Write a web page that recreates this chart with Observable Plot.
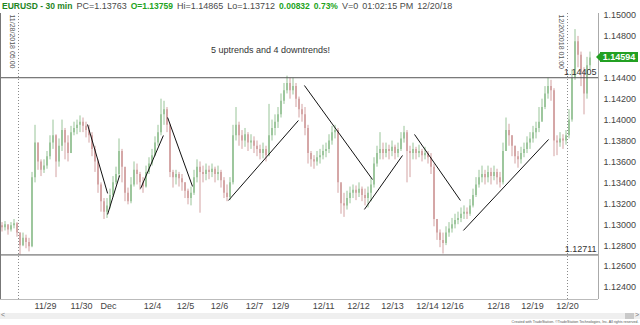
<!DOCTYPE html>
<html><head><meta charset="utf-8">
<script src="https://cdn.jsdelivr.net/npm/d3@7"></script>
<script src="https://cdn.jsdelivr.net/npm/@observablehq/plot@0.6"></script>
<style>
body{margin:0;background:#fff;}
#wrap{position:relative;width:640px;height:325px;overflow:hidden;font-family:"Liberation Sans",Arial,sans-serif;background:#fff}
#hdr{position:absolute;left:2px;top:0;font-size:9px;line-height:12px;white-space:nowrap;color:#4a4a4a;z-index:2}
#hdr span{margin-right:4px}
#hdr .g1{color:#1e851e;font-weight:bold;font-size:8.5px}
#hdr .g2{color:#22a322;font-weight:bold;font-size:8.5px}
#chart{position:absolute;left:0;top:13px}
#scroll{position:absolute;left:0;top:313px;width:640px;height:6px;background:#efefef;z-index:2}
#scroll .l{position:absolute;left:1px;top:-2px;font-size:7px;color:#777}
#scroll .r{position:absolute;left:635px;top:-2px;font-size:7px;color:#777}
#scroll .t{position:absolute;left:625px;top:0;width:9px;height:6px;background:#c9c9c9}
#tag{position:absolute;left:600px;width:38px;height:10px;background:#23a023;color:#fff;font-weight:bold;font-size:9px;line-height:10px;text-align:center;z-index:3}
#tag:before{content:"";position:absolute;left:-4px;top:1px;border-top:4px solid transparent;border-bottom:4px solid transparent;border-right:4px solid #23a023}
</style></head><body>
<div id="wrap">
<div id="chart"></div>
<div id="hdr"><span class="g1">EURUSD - 30 min</span><span>PC=1.13763</span><span class="g2">O=1.13759</span><span>Hi=1.14865</span><span>Lo=1.13712</span><span class="g2">0.00832</span><span class="g2">0.73%</span><span>V=0</span><span>01:02:15 PM</span><span>12/20/18</span></div>
<div id="scroll"><span class="l">&lt;</span><span class="t"></span><span class="r">&gt;</span></div>
<div id="tag"></div>
</div>
<script>
// 30-minute EURUSD price path (sampled), prices
const closes = [
1.1297,1.1300,1.1295,1.1299,1.1301,1.1292,1.1280,1.1287,1.1283,1.1279,
1.1345,1.1378,1.1360,1.1352,1.1356,1.1365,1.1378,1.1385,1.1360,1.1375,
1.1390,1.1378,1.1368,1.1388,1.1392,1.1395,1.1398,1.1394,1.1390,1.1385,
1.1372,1.1360,1.1338,1.1322,1.1312,1.1318,1.1328,1.1340,1.1348,1.1370,
1.1355,1.1330,1.1322,1.1338,1.1352,1.1348,1.1340,1.1336,1.1350,1.1358,
1.1366,1.1378,1.1388,1.1405,1.1410,1.1395,1.1350,1.1345,1.1348,1.1344,
1.1340,1.1332,1.1325,1.1330,1.1345,1.1355,1.1350,1.1348,1.1352,1.1350,
1.1353,1.1348,1.1350,1.1342,1.1330,1.1326,1.1340,1.1385,1.1395,1.1385,
1.1380,1.1386,1.1378,1.1380,1.1375,1.1372,1.1368,1.1372,1.1366,1.1385,
1.1392,1.1398,1.1405,1.1418,1.1428,1.1435,1.1428,1.1432,1.1420,1.1410,
1.1405,1.1392,1.1368,1.1362,1.1360,1.1364,1.1366,1.1370,1.1372,1.1380,
1.1388,1.1390,1.1340,1.1320,1.1318,1.1325,1.1330,1.1333,1.1330,1.1334,
1.1328,1.1325,1.1330,1.1338,1.1358,1.1368,1.1372,1.1368,1.1372,1.1370,
1.1374,1.1368,1.1372,1.1382,1.1388,1.1370,1.1368,1.1372,1.1368,1.1370,
1.1366,1.1368,1.1364,1.1355,1.1305,1.1292,1.1285,1.1282,1.1292,1.1296,
1.1300,1.1304,1.1306,1.1310,1.1312,1.1310,1.1318,1.1328,1.1338,1.1345,
1.1348,1.1345,1.1350,1.1346,1.1350,1.1345,1.1340,1.1370,1.1390,1.1385,
1.1375,1.1365,1.1362,1.1368,1.1372,1.1378,1.1382,1.1388,1.1392,1.1398,
1.1412,1.1425,1.1432,1.1428,1.1380,1.1378,1.1382,1.1380,1.1385,1.1400,
1.1440,1.1475,1.1462,1.1445,1.1425,1.1452,1.14594];
const highs = [
1.1302,1.1303,1.1299,1.1302,1.1305,1.1302,1.1292,1.1292,1.1290,1.1287,
1.1350,1.1395,1.1378,1.1362,1.1362,1.1370,1.1385,1.1400,1.1386,1.1382,
1.1400,1.1392,1.1385,1.1394,1.1398,1.1400,1.1404,1.1402,1.1398,1.1395,
1.1388,1.1375,1.1362,1.1340,1.1325,1.1325,1.1334,1.1346,1.1355,1.1382,
1.1372,1.1352,1.1335,1.1345,1.1360,1.1358,1.1350,1.1345,1.1356,1.1364,
1.1372,1.1384,1.1395,1.1420,1.1418,1.1412,1.1396,1.1352,1.1352,1.1350,
1.1348,1.1340,1.1334,1.1336,1.1352,1.1362,1.1360,1.1356,1.1358,1.1356,
1.1358,1.1355,1.1356,1.1352,1.1345,1.1338,1.1345,1.1395,1.1412,1.1398,
1.1390,1.1392,1.1388,1.1386,1.1384,1.1380,1.1376,1.1378,1.1375,1.1415,
1.1400,1.1405,1.1412,1.1425,1.1435,1.1442,1.1440,1.1440,1.1435,1.1422,
1.1415,1.1412,1.1395,1.1370,1.1366,1.1370,1.1372,1.1376,1.1378,1.1386,
1.1394,1.1395,1.1392,1.1338,1.1330,1.1332,1.1336,1.1338,1.1337,1.1340,
1.1336,1.1334,1.1336,1.1344,1.1364,1.1375,1.1388,1.1378,1.1378,1.1376,
1.1380,1.1376,1.1378,1.1388,1.1394,1.1390,1.1375,1.1378,1.1374,1.1376,
1.1372,1.1374,1.1370,1.1368,1.1358,1.1305,1.1295,1.1292,1.1298,1.1302,
1.1306,1.1310,1.1312,1.1316,1.1318,1.1316,1.1324,1.1334,1.1345,1.1352,
1.1356,1.1352,1.1356,1.1354,1.1356,1.1353,1.1350,1.1378,1.1402,1.1396,
1.1385,1.1375,1.1370,1.1374,1.1378,1.1384,1.1388,1.1394,1.1398,1.1412,
1.1420,1.1432,1.1440,1.1438,1.1430,1.1385,1.1388,1.1386,1.1390,1.1410,
1.1448,1.14865,1.1480,1.1465,1.1450,1.1460,1.1465];
const lows = [
1.1293,1.1294,1.1290,1.1293,1.1296,1.1288,1.12711,1.1279,1.1277,1.1274,
1.1278,1.1340,1.1352,1.1346,1.1349,1.1353,1.1362,1.1372,1.1345,1.1355,
1.1370,1.1362,1.1360,1.1368,1.1385,1.1386,1.1388,1.1388,1.1383,1.1378,
1.1365,1.1350,1.1330,1.1312,1.1305,1.1306,1.1315,1.1326,1.1338,1.1345,
1.1340,1.1322,1.1319,1.1320,1.1336,1.1338,1.1333,1.1330,1.1335,1.1348,
1.1356,1.1365,1.1375,1.1385,1.1395,1.1388,1.1345,1.1335,1.1338,1.1336,
1.1332,1.1325,1.1319,1.1318,1.1328,1.1340,1.1311,1.1340,1.1342,1.1343,
1.1345,1.1340,1.1342,1.1335,1.1325,1.1322,1.1323,1.1338,1.1380,1.1375,
1.1372,1.1374,1.1370,1.1372,1.1368,1.1365,1.1362,1.1363,1.1360,1.1365,
1.1380,1.1385,1.1392,1.1402,1.1415,1.1425,1.1420,1.1424,1.1412,1.1402,
1.1398,1.1385,1.1358,1.1355,1.1353,1.1356,1.1358,1.1362,1.1364,1.1368,
1.1376,1.1382,1.1330,1.1310,1.1307,1.1314,1.1320,1.1325,1.1323,1.1326,
1.1322,1.1318,1.1316,1.1322,1.1335,1.1355,1.1362,1.1362,1.1364,1.1362,
1.1365,1.1362,1.1364,1.1370,1.1378,1.1340,1.1345,1.1362,1.1362,1.1364,
1.1360,1.1362,1.1358,1.1348,1.1298,1.1285,1.1278,1.1272,1.1280,1.1288,
1.1292,1.1296,1.1300,1.1302,1.1305,1.1305,1.1308,1.1316,1.1326,1.1335,
1.1340,1.1338,1.1340,1.1338,1.1342,1.1338,1.1335,1.1338,1.1370,1.1375,
1.1365,1.1358,1.1354,1.1358,1.1364,1.1368,1.1372,1.1378,1.1382,1.1388,
1.1400,1.1410,1.1420,1.1418,1.1365,1.1366,1.1374,1.1372,1.1376,1.1382,
1.1398,1.1438,1.1450,1.1432,1.1405,1.1420,1.1448];
const firstOpen = 1.1299;

const tickLabels = ["11/29","11/30","Dec","12/4","12/5","12/6","12/7","12/9","12/11","12/12","12/13","12/14","12/16","12/18","12/19","12/20"];
const tickBars = [15,27,36,50.7,61.7,73,84.7,93.3,107.7,119.3,130.7,142.3,150.7,166,177.3,189];
const priceTicks = [1.124,1.126,1.128,1.130,1.132,1.134,1.136,1.138,1.140,1.142,1.144,1.146,1.148,1.150];
const levels = [1.14405, 1.12711];
const markerLabels = ["11/28/2018 05:00","12/20/2018 01:00"];
const markerBars = [6, 189];
// trend lines: [bar, price] start and end
const trendStart = [[29.0,1.13958],[35.7,1.13098],[46.7,1.13346],[55.7,1.14025],[76.0,1.13232],[101.3,1.14331],[121.3,1.13146],[138.0,1.13863],[154.3,1.12945]];
const trendEnd   = [[35.7,1.13299],[39.7,1.13471],[54.3,1.13853],[64.0,1.13366],[99.3,1.13996],[124.0,1.13432],[134.0,1.13662],[153.3,1.13232],[182.7,1.13815]];
const note = "5 uptrends and 4 downtrends!";
const caption = "Created with TradeStation. \u00A9TradeStation Technologies, Inc. All rights reserved.";

const bars = closes.map((c,i)=>({i:i+0.5, open: i===0?firstOpen:closes[i-1], close:c, high:highs[i], low:lows[i]}));
bars.forEach(b=>b.up = b.close>=b.open);
const ticks = tickLabels.map((l,i)=>({label:l, bar:tickBars[i]}));
const markers = markerLabels.map((l,i)=>({label:l, bar:markerBars[i]}));
const trends = trendStart.map((s,i)=>({x1:s[0],y1:s[1],x2:trendEnd[i][0],y2:trendEnd[i][1]}));

const UP="#98c498", DN="#d3a2a2";
const xDom=[0,199.333], yDom=[1.12285,1.15019];
const chart = Plot.plot({
  width:640, height:312,
  marginTop:0, marginBottom:26, marginLeft:0, marginRight:42,
  style:{fontFamily:'"Liberation Sans",Arial,sans-serif', fontSize:"9px", color:"#444", background:"transparent", overflow:"visible"},
  x:{type:"linear", domain:xDom, axis:null},
  y:{type:"linear", domain:yDom, axis:null},
  marks:[
    Plot.ruleX(markers,{x:"bar", stroke:"#8a8a8a", strokeDasharray:"1,2"}),
    Plot.ruleX(bars,{x:"i", y1:"low", y2:"high", stroke:d=>d.up?UP:DN, strokeWidth:1}),
    Plot.ruleX(bars,{x:"i", y1:"open", y2:"close", stroke:d=>d.up?UP:DN, strokeWidth:1.8}),
    Plot.ruleY(levels,{stroke:"#555", strokeWidth:1}),
    Plot.text(levels,{y:d=>d, text:d=>d.toFixed(5), frameAnchor:"right", textAnchor:"end", dx:-2, dy:-6, fontSize:9, fill:"#333"}),
    Plot.link(trends,{x1:"x1",y1:"y1",x2:"x2",y2:"y2", stroke:"#111", strokeWidth:1}),
    Plot.text([note],{frameAnchor:"top-left", dx:270, dy:33, textAnchor:"middle", fontSize:9, fill:"#333"}),
    Plot.text(markers,{x:"bar", text:"label", frameAnchor:"top", rotate:90, textAnchor:"start", dx:-4, dy:1, fontSize:7, fill:"#555"}),
    Plot.ruleX([xDom[0]],{stroke:"#777"}),
    Plot.ruleX([xDom[1]],{stroke:"#aaa"}),
    Plot.ruleY([yDom[0]],{stroke:"#bbb"}),
    Plot.axisY(priceTicks,{anchor:"right", tickFormat:d=>d.toFixed(5), tickSize:0, tickPadding:5, fontSize:9, fill:"#444", label:null}),
    Plot.text(ticks,{x:"bar", text:"label", frameAnchor:"bottom", dy:9, fontSize:9, fill:"#444"}),
    Plot.text([caption],{frameAnchor:"bottom-right", dx:40, dy:23, textAnchor:"end", fontSize:3.6, fill:"#555"})
  ]
});
document.getElementById("chart").appendChild(chart);
const last = closes[closes.length-1];
const tag = document.getElementById("tag");
tag.textContent = last.toFixed(5);
tag.style.top = (chart.scale("y").apply(last) + 13 - 5) + "px";
</script>
</body></html>
